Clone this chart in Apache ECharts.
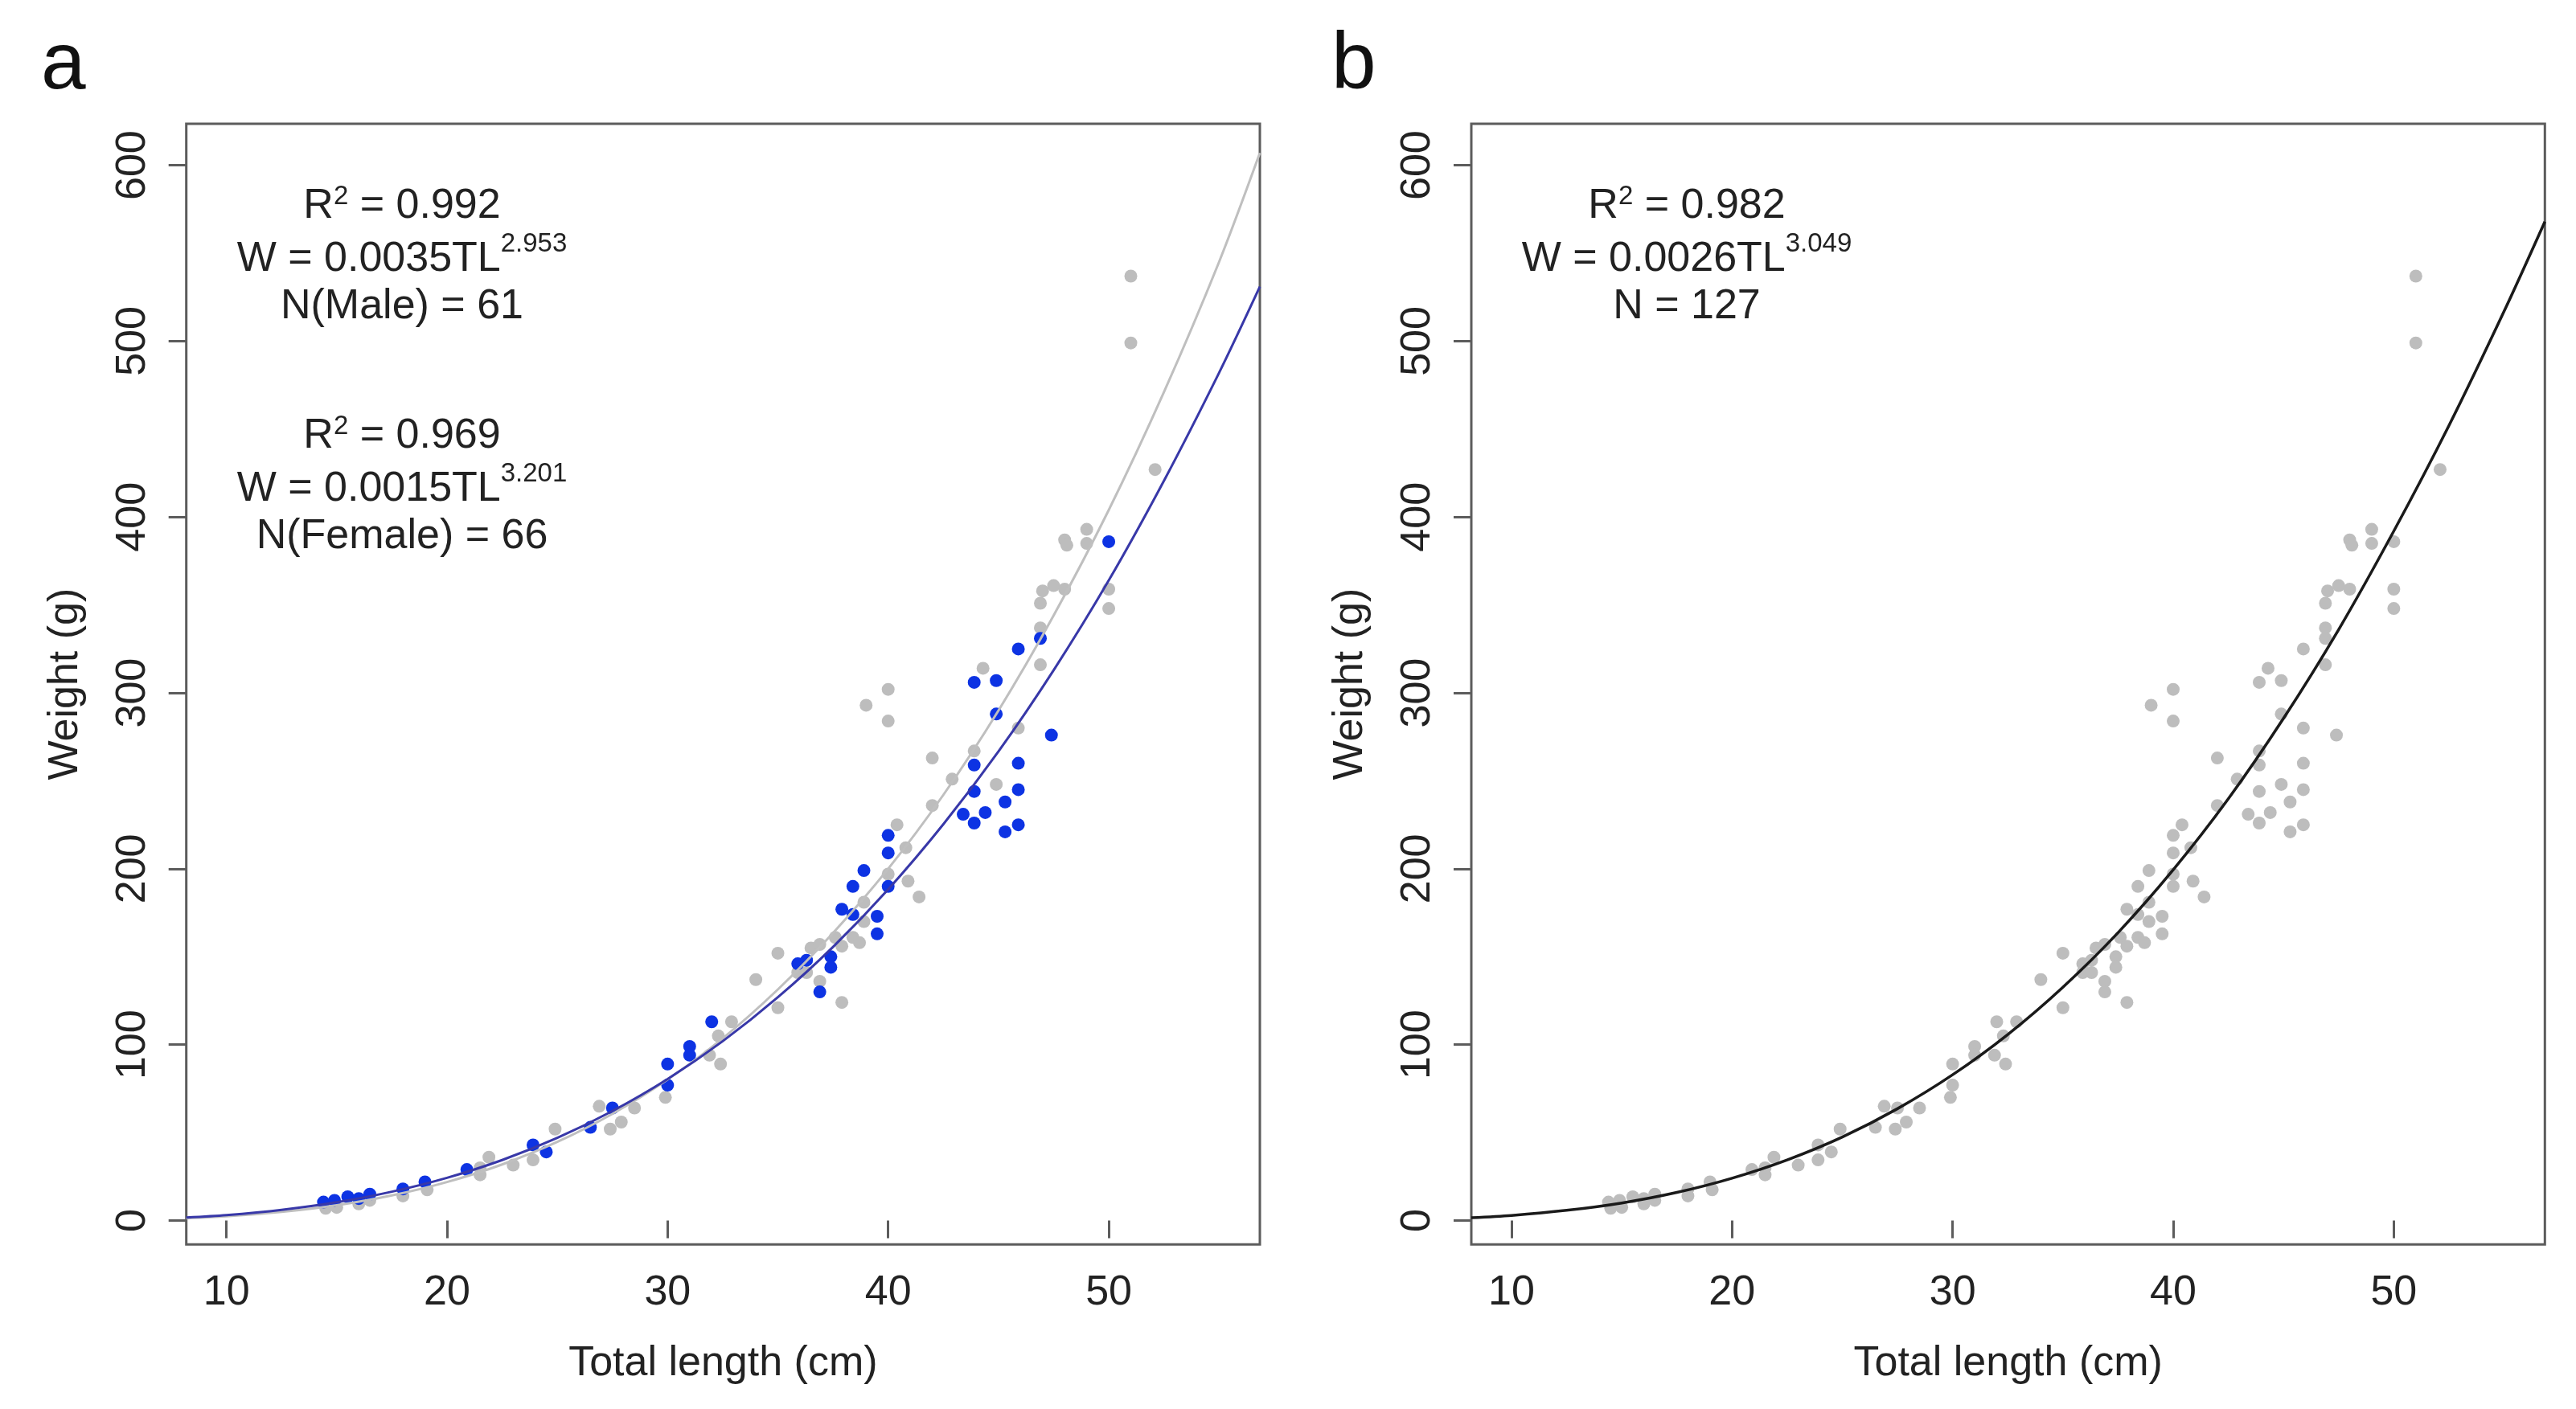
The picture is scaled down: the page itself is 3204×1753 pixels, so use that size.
<!DOCTYPE html>
<html><head><meta charset="utf-8">
<script src="https://cdn.jsdelivr.net/npm/echarts@6/dist/echarts.min.js"></script>
<style>html,body{margin:0;padding:0;background:#fff}#c{width:3204px;height:1753px}</style>
</head><body><div id="c"></div>
<script>
// ---- data ----
// Male (blue points, panel a)
const maleTL = [14.4,14.9,15.5,16.0,16.5,18.0,19.0,20.9,23.9,24.5,26.5,27.5,30.0,30.0,31.0,31.0,32.0,
  35.9,36.3,36.9,37.4,37.4,37.9,38.4,38.4,38.9,39.5,39.5,40.0,40.0,40.0,
  43.4,43.9,43.9,43.9,43.9,44.4,44.9,44.9,45.3,45.3,45.9,45.9,45.9,45.9,46.9,47.4,50.0];
const maleW = [10.5,11.5,13.5,12.5,15,18,22,29,43,39,53,64,89,77,99,94,113,
  146,148,130,150,144,177,174,190,199,173,163,219,209,190,
  231,306,259,244,226,232,307,288,238,221,325,260,245,225,331,276,386];
// Female (grey points, panel a)
const femaleTL = [14.5,15.0,16.0,16.5,18.0,19.1,21.5,21.5,21.9,23.0,23.9,24.9,26.9,27.4,27.9,28.5,29.9,
  31.9,32.4,32.3,32.9,34.0,35.0,35.0,35.9,36.3,36.5,36.9,36.9,37.6,37.9,37.9,38.4,38.7,38.9,38.9,
  39.0,40.0,40.0,40.0,40.4,40.8,40.9,41.4,42.0,42.0,42.9,43.9,44.3,44.9,45.9,46.9,46.9,46.9,47.0,
  47.5,48.0,48.0,48.1,49.0,49.0,50.0,50.0,51.0,51.0,52.1];
const femaleW = [7,7.5,9.5,11.5,14,17.5,26,30,36,31.5,34.5,52,65,52,56,64,70,
  94,89,105,113,137,152,121,141,141,155,157,136,161,156,124,161,158,170,181,
  293,302,284,197,225,212,193,184,263,236,251,267,314,248,280,316,337,351,358,
  361,359,387,384,393,385,359,348,537,499,427];
// Fitted curves (TL grid, weight)
const curveTL = [8.18,10,12.5,15,17.5,20,22.5,25,27.5,30,32.5,35,37.5,40,42.5,45,47.5,50,52.5,55,56.85];
const maleCurveW = [1.7,3.1,6.1,10.4,16.4,24.3,34.4,47.0,62.3,80.5,102,127,155.6,188.3,225.3,266.7,312.9,364,420.6,482,531];
const femaleCurveW = [1.3,2.4,4.9,8.7,14.3,21.9,31.9,44.7,60.7,80.2,103.6,131.4,163.5,200,242,290,344,404,471,545,607];
const allCurveW = [1.6,2.9,5.8,10.0,16.0,24.1,34.5,47.5,63.6,82.9,105.8,132.7,163.7,199.4,239.8,285.5,336,392,452,517,568];
// Axis ticks
const xTicks = [10,20,30,40,50];
const yTicks = [0,100,200,300,400,500,600];
// Annotation texts
const annoA1 = [['R','2',' = 0.992'],['W = 0.0035TL','2.953',''],['N(Male) = 61','','']];
const annoA2 = [['R','2',' = 0.969'],['W = 0.0015TL','3.201',''],['N(Female) = 66','','']];
const annoB  = [['R','2',' = 0.982'],['W = 0.0026TL','3.049',''],['N = 127','','']];

// ---- layout ----
const FONT = '"Liberation Sans", Arial, Helvetica, sans-serif';
const TXT = '#222222';
const FRAME = '#5c5c5c';
const X0 = 8.18, X1 = 56.85, Y0 = -13.6, Y1 = 623.6;
const gridA = {left: 231.7, top: 154, width: 1335.3, height: 1394.3};
const gridB = {left: 1830, top: 154, width: 1335.3, height: 1394.3};

const ctx = document.createElement('canvas').getContext('2d');
function measure(t, size){ ctx.font = size + 'px ' + FONT; return ctx.measureText(t).width; }
function annoLine(parts, cx, cy, supDy){
  const segs = [{t:parts[0], s:52, dy:0},{t:parts[1], s:33, dy:supDy},{t:parts[2], s:52, dy:0}].filter(p=>p.t);
  const w = segs.map(p=>measure(p.t,p.s));
  let x = cx - w.reduce((a,b)=>a+b,0)/2;
  return segs.map((p,i)=>{ const el = {type:'text', x:x, y:cy+p.dy, z:100,
    style:{text:p.t, font:p.s+'px '+FONT, fill:TXT, align:'left', verticalAlign:'middle', textAlign:'left', textVerticalAlign:'middle'}};
    x += w[i]; return el; });
}
function annoBlock(lines, cx, y0){
  const ys = [0, 66, 125];
  let els = [];
  lines.forEach((ln,i)=>{ els = els.concat(annoLine(ln, cx, y0+ys[i], i===0 ? -12 : -19)); });
  return els;
}

const pairs = (xs, ys) => xs.map((x,i)=>[x, ys[i]]);

function xAxis(gi){
  return {type:'value', gridIndex:gi, min:X0, max:X1,
    axisLine:{show:false}, splitLine:{show:false},
    axisTick:{show:true, customValues:xTicks, length:22, inside:false, lineStyle:{color:FRAME, width:3}},
    axisLabel:{customValues:xTicks, fontSize:52, color:TXT, fontFamily:FONT, margin:34},
    name:'Total length (cm)', nameLocation:'middle', nameGap:122,
    nameTextStyle:{fontSize:52, color:TXT, fontFamily:FONT}};
}
function yAxis(gi){
  return {type:'value', gridIndex:gi, min:Y0, max:Y1,
    axisLine:{show:false}, splitLine:{show:false},
    axisTick:{show:true, customValues:yTicks, length:22, inside:false, lineStyle:{color:FRAME, width:3}},
    axisLabel:{customValues:yTicks, fontSize:52, color:TXT, fontFamily:FONT, margin:40, rotate:90},
    name:'Weight (g)', nameLocation:'middle', nameGap:124, nameRotate:90,
    nameTextStyle:{fontSize:52, color:TXT, fontFamily:FONT}};
}
const gridCommon = {show:true, borderColor:FRAME, borderWidth:3, backgroundColor:'transparent', containLabel:false, outerBoundsMode:'none'};

const dotSize = 16;
const option = {
  animation:false,
  backgroundColor:'#ffffff',
  textStyle:{fontFamily:FONT},
  grid:[Object.assign({}, gridCommon, gridA), Object.assign({}, gridCommon, gridB)],
  xAxis:[xAxis(0), xAxis(1)],
  yAxis:[yAxis(0), yAxis(1)],
  series:[
    {type:'scatter', name:'Female', xAxisIndex:0, yAxisIndex:0, symbol:'circle', symbolSize:dotSize,
     itemStyle:{color:'#bdbdbd', opacity:1}, data:pairs(femaleTL, femaleW), z:2},
    {type:'scatter', name:'Male', xAxisIndex:0, yAxisIndex:0, symbol:'circle', symbolSize:dotSize,
     itemStyle:{color:'#0d33e3', opacity:1}, data:pairs(maleTL, maleW), z:3},
    {type:'line', xAxisIndex:0, yAxisIndex:0, smooth:0.3, showSymbol:false, symbol:'none', clip:true,
     lineStyle:{color:'#bfbfbf', width:3}, data:pairs(curveTL, femaleCurveW), z:4},
    {type:'line', xAxisIndex:0, yAxisIndex:0, smooth:0.3, showSymbol:false, symbol:'none', clip:true,
     lineStyle:{color:'#3838a8', width:3}, data:pairs(curveTL, maleCurveW), z:5},
    {type:'scatter', name:'All', xAxisIndex:1, yAxisIndex:1, symbol:'circle', symbolSize:dotSize,
     itemStyle:{color:'#bdbdbd', opacity:1}, data:pairs(femaleTL.concat(maleTL), femaleW.concat(maleW)), z:2},
    {type:'line', xAxisIndex:1, yAxisIndex:1, smooth:0.3, showSymbol:false, symbol:'none', clip:true,
     lineStyle:{color:'#1a1a1a', width:3.5}, data:pairs(curveTL, allCurveW), z:5}
  ],
  graphic: [
    {type:'text', x:51, y:82, style:{text:'a', font:'100px '+FONT, fill:'#111', align:'left', verticalAlign:'middle', textAlign:'left', textVerticalAlign:'middle'}},
    {type:'text', x:1656, y:82, style:{text:'b', font:'100px '+FONT, fill:'#111', align:'left', verticalAlign:'middle', textAlign:'left', textVerticalAlign:'middle'}}
  ].concat(annoBlock(annoA1, 500, 257), annoBlock(annoA2, 500, 543), annoBlock(annoB, 2098, 257))
};
const chart = echarts.init(document.getElementById('c'), null, {renderer:'canvas', width:3204, height:1753});
chart.setOption(option);
</script></body></html>
